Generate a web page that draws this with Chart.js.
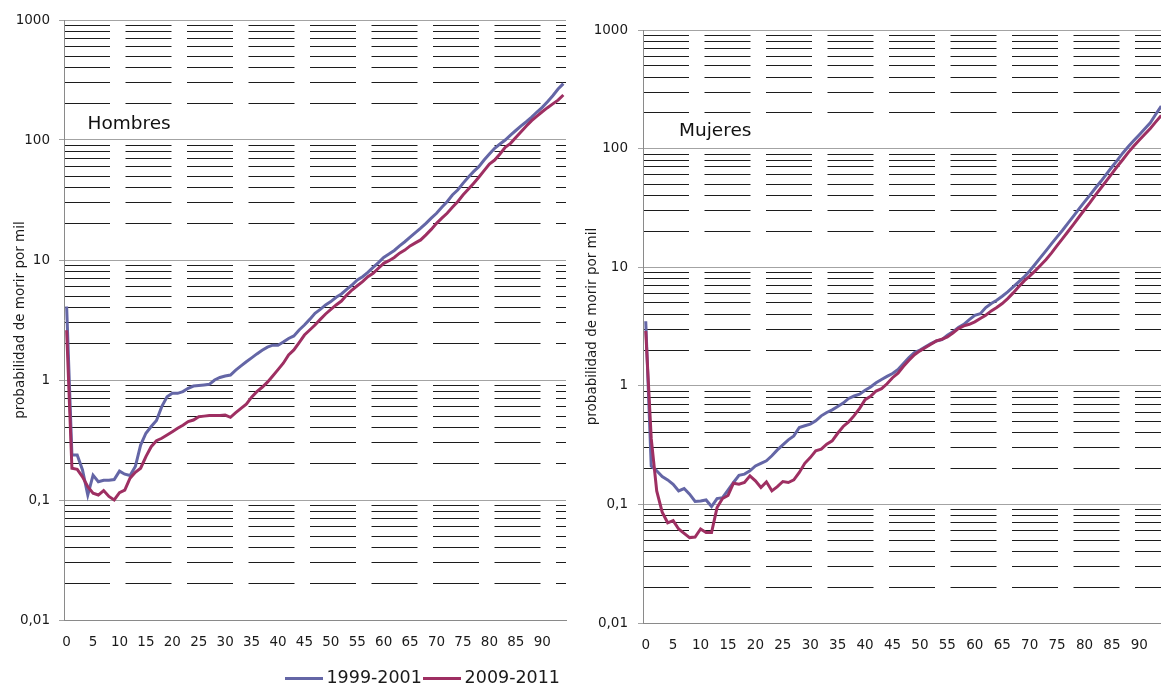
<!DOCTYPE html>
<html><head><meta charset="utf-8">
<script src="https://cdn.jsdelivr.net/npm/chart.js@4"></script>
<style>
html,body{margin:0;padding:0;background:#fff;overflow:hidden;width:1161px;height:687px;position:relative;}
#wrapL{position:absolute;left:0;top:0;width:576px;height:700px;}
#wrapR{position:absolute;left:578px;top:0;width:600px;height:687px;}
.ptitle{position:absolute;font-family:'DejaVu Sans';font-size:18.5px;line-height:22px;color:#111;white-space:nowrap;}
</style></head><body>
<div id="wrapL"><canvas id="cL"></canvas></div>
<div id="wrapR"><canvas id="cR"></canvas></div>
<div class="ptitle" style="left:87.5px;top:111.5px">Hombres</div>
<div class="ptitle" style="left:679px;top:119px">Mujeres</div>
<script>
const ages = ['0','1','2','3','4','5','6','7','8','9','10','11','12','13','14','15','16','17','18','19',
'20','21','22','23','24','25','26','27','28','29','30','31','32','33','34','35','36','37','38','39',
'40','41','42','43','44','45','46','47','48','49','50','51','52','53','54','55','56','57','58','59',
'60','61','62','63','64','65','66','67','68','69','70','71','72','73','74','75','76','77','78','79',
'80','81','82','83','84','85','86','87','88','89','90','91','92','93','94'];

const seriesNames = ['1999-2001', '2009-2011'];

const hombres1999 = [4.1,0.237,0.237,0.178,0.11,0.161,0.142,0.146,0.146,0.148,
0.174,0.164,0.16,0.19,0.287,0.36,0.41,0.46,0.6,0.726,
0.774,0.774,0.8,0.853,0.89,0.9,0.91,0.92,1.0,1.05,
1.08,1.1,1.21,1.31,1.42,1.53,1.65,1.77,1.88,1.95,
1.95,2.07,2.22,2.33,2.61,2.87,3.2,3.6,3.88,4.22,
4.5,4.89,5.21,5.7,6.19,6.81,7.26,7.89,8.68,9.5,
10.5,11.2,12.0,13.1,14.2,15.5,16.9,18.4,20.2,22.3,
24.5,27.5,30.6,34.8,38.3,43.5,48.9,54.5,60,68.1,
76.4,85.3,92.6,100,110,120,131,142,155,171,
187,208,234,266,295];

const hombres2009 = [2.6,0.184,0.18,0.156,0.129,0.114,0.11,0.12,0.107,0.1,
0.115,0.121,0.152,0.17,0.184,0.23,0.278,0.312,0.327,0.348,
0.371,0.396,0.42,0.45,0.464,0.495,0.5,0.505,0.505,0.505,
0.51,0.489,0.534,0.58,0.63,0.72,0.8,0.87,0.96,1.08,
1.22,1.38,1.62,1.78,2.05,2.37,2.61,2.87,3.2,3.55,
3.88,4.22,4.55,5.1,5.62,6.1,6.6,7.26,7.74,8.53,
9.38,9.87,10.5,11.4,12.1,13.1,13.9,14.7,16.2,18.0,
20.2,22.3,24.5,27.5,30.6,34.8,38.8,43.5,48.9,55.5,
63.1,68.1,76.4,86.9,93.8,105,117,131,145,158,
172,186,200,215,237];

const mujeres1999 = [3.5,0.211,0.192,0.172,0.161,0.148,0.13,0.136,0.122,0.106,
0.107,0.109,0.096,0.112,0.114,0.132,0.153,0.176,0.18,0.192,
0.211,0.222,0.233,0.257,0.288,0.318,0.35,0.378,0.445,0.46,
0.475,0.507,0.558,0.596,0.627,0.669,0.714,0.782,0.82,0.85,
0.916,0.977,1.06,1.13,1.2,1.27,1.37,1.54,1.73,1.91,
2.0,2.13,2.27,2.39,2.45,2.67,2.85,3.1,3.3,3.62,
3.93,4.06,4.57,4.94,5.27,5.69,6.19,6.83,7.52,8.28,
9.3,10.6,12.1,13.8,15.8,18.0,20.5,23.5,27,31,
35.5,40.5,46.5,53,61,70,80,92,104,117,
131,147,165,195,228];

const mujeres2009 = [2.9,0.36,0.13,0.086,0.07,0.073,0.062,0.057,0.0525,0.053,
0.062,0.058,0.058,0.094,0.112,0.119,0.151,0.148,0.153,0.174,
0.158,0.139,0.155,0.13,0.141,0.156,0.153,0.161,0.186,0.222,
0.248,0.283,0.292,0.322,0.343,0.398,0.454,0.497,0.56,0.645,
0.764,0.815,0.904,0.946,1.04,1.17,1.28,1.46,1.64,1.83,
1.97,2.1,2.24,2.39,2.47,2.58,2.79,3.04,3.2,3.3,
3.46,3.69,3.94,4.28,4.57,4.94,5.44,6.07,6.83,7.67,
8.4,9.31,10.4,11.6,13.2,15.2,17.4,20,23,26.5,
30.5,35,40.5,46.5,53.5,61.5,71,81,93,105,
118,132,148,168,190];

const yTickValues = [0.01, 0.1, 1, 10, 100, 1000];
const yTickLabels = ['0,01', '0,1', '1', '10', '100', '1000'];
const minorTickValues = [0.02,0.03,0.04,0.05,0.06,0.07,0.08,0.09,
0.2,0.3,0.4,0.5,0.6,0.7,0.8,0.9,
2,3,4,5,6,7,8,9,
20,30,40,50,60,70,80,90,
200,300,400,500,600,700,800,900];
const yTitle = 'probabilidad de morir por mil';

const FONT = 'DejaVu Sans';
const colA = '#6466a6';
const colB = '#9e2f62';
const majorColor = '#a3a3a3';
const axisColor = '#8a8a8a';
const minorColor = '#1c1c1c';
const textColor = '#1a1a1a';

function swatch(color) {
  const c = document.createElement('canvas');
  c.width = 38; c.height = 3;
  const g = c.getContext('2d');
  g.fillStyle = color; g.fillRect(0, 0, 38, 3);
  return c;
}

function makeChart(id, cfg) {
  return new Chart(document.getElementById(id), {
    type: 'line',
    data: {
      labels: ages,
      datasets: [
        {label: seriesNames[0], data: cfg.a, borderColor: colA, backgroundColor: colA, borderWidth: 3,
         pointRadius: 0, pointHoverRadius: 0, tension: 0, order: 2, pointStyle: swatch(colA)},
        {label: seriesNames[1], data: cfg.b, borderColor: colB, backgroundColor: colB, borderWidth: 3,
         pointRadius: 0, pointHoverRadius: 0, tension: 0, order: 1, pointStyle: swatch(colB)}
      ]
    },
    options: {
      responsive: true, maintainAspectRatio: false, animation: false,
      layout: {padding: cfg.padding},
      events: [],
      plugins: {
        tooltip: {enabled: false},
        legend: cfg.legend ? {
          display: true, position: 'bottom', align: 'end',
          labels: {usePointStyle: true, pointStyleWidth: 28, color: textColor, padding: 6,
                   font: {family: FONT, size: 17.5},
                   sort: (p, q) => p.datasetIndex - q.datasetIndex}
        } : {display: false}
      },
      scales: {
        x: {
          type: 'category', offset: true,
          grid: {display: false, drawTicks: false},
          border: {display: true, color: axisColor, width: 1},
          ticks: {autoSkip: false, maxRotation: 0, minRotation: 0, padding: cfg.xPad, color: textColor,
                  font: {family: FONT, size: 13.5},
                  callback: (v, i) => (i % 5 === 0 ? ages[i] : null)},
          afterFit: s => { s.height = cfg.xH; }
        },
        y: {
          type: 'logarithmic', position: 'left', min: 0.01, max: 1000,
          afterBuildTicks: s => { s.ticks = yTickValues.map(v => ({value: v})); },
          ticks: {color: textColor, padding: cfg.yPad, font: {family: FONT, size: 13.5},
                  callback: (v, i) => yTickLabels[i]},
          grid: {color: majorColor, lineWidth: 1, drawTicks: true, tickLength: 5, tickColor: majorColor},
          border: {display: true, color: axisColor, width: 1},
          title: {display: true, text: yTitle, color: textColor, font: {family: FONT, size: 13.5},
                  padding: {top: cfg.titlePad, bottom: 0}},
          afterFit: s => { s.width = cfg.yW; }
        },
        yMinor: {
          type: 'logarithmic', position: 'left', min: 0.01, max: 1000,
          afterBuildTicks: s => { s.ticks = minorTickValues.map(v => ({value: v})); },
          ticks: {display: false},
          grid: {color: minorColor, lineWidth: 1, drawTicks: false},
          border: {display: false, dash: [46, 15.5]},
          afterFit: s => { s.width = 0; }
        }
      }
    }
  });
}

makeChart('cL', {a: hombres1999, b: hombres2009, legend: true,
  padding: {left: 0, top: 20, right: 10, bottom: 3}, xH: 43.5, xPad: 14, yPad: 9, yW: 64, titlePad: 12});
makeChart('cR', {a: mujeres1999, b: mujeres2009, legend: false,
  padding: {left: 0, top: 30, right: 14, bottom: 24}, xH: 40, xPad: 14, yPad: 10, yW: 65, titlePad: 6});
</script>
</body></html>
